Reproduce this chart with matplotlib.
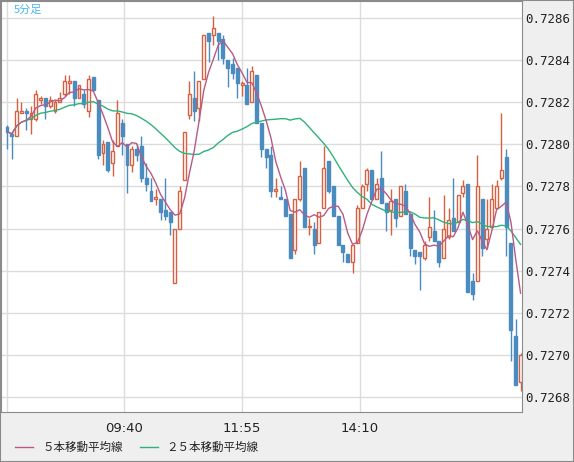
import matplotlib
matplotlib.use("Agg")
import matplotlib.pyplot as plt
import numpy as np
import pandas as pd

opens = [.72808,.72805,.72804,.72815,.72816,.72812,.72812,.72821,.72822,.72818,.72816,.72820,.72824,.72829,.72830,.72822,.72824,.72816,.72832,.72821,
         .72796,.72801,.72791,.72799,.72810,.72800,.72790,.72798,.72799,.72784,.72778,.72774,.72774,.72769,.72768,.72734,.72760,.72783,.72814,.72822,
         .72817,.72831,.72853,.72852,.72853,.72850,.72840,.72838,.72836,.72828,.72828,.72820,.72833,.72810,.72798,.72795,.72778,.72775,.72774,.72767,
         .72750,.72774,.72789,.72761,.72760,.72753,.72770,.72792,.72780,.72766,.72752,.72748,.72744,.72753,.72770,.72781,.72788,.72774,.72784,.72772,
         .72769,.72774,.72766,.72778,.72767,.72750,.72749,.72746,.72756,.72759,.72754,.72746,.72756,.72765,.72763,.72777,.72781,.72735,.72735,.72774,
         .72755,.72761,.72770,.72784,.72794,.72753,.72709,.72687]
highs = [.72809,.72806,.72822,.72820,.72817,.72818,.72826,.72823,.72822,.72823,.72821,.72825,.72833,.72833,.72830,.72828,.72826,.72833,.72832,.72821,
         .72802,.72801,.72802,.72821,.72812,.72800,.72799,.72800,.72804,.72791,.72784,.72779,.72774,.72784,.72768,.72760,.72780,.72806,.72830,.72835,
         .72830,.72852,.72853,.72861,.72853,.72852,.72840,.72841,.72836,.72830,.72836,.72837,.72833,.72810,.72798,.72799,.72784,.72780,.72774,.72767,
         .72774,.72792,.72789,.72765,.72763,.72768,.72799,.72792,.72780,.72766,.72752,.72748,.72752,.72771,.72781,.72789,.72788,.72784,.72797,.72772,
         .72779,.72774,.72780,.72781,.72767,.72750,.72749,.72754,.72775,.72769,.72754,.72776,.72770,.72784,.72776,.72783,.72781,.72739,.72795,.72774,
         .72774,.72781,.72783,.72815,.72798,.72753,.72717,.72701]
lows = [.72798,.72793,.72804,.72815,.72807,.72805,.72811,.72819,.72812,.72817,.72815,.72820,.72823,.72824,.72818,.72822,.72817,.72813,.72826,.72793,
        .72790,.72787,.72785,.72799,.72795,.72777,.72787,.72792,.72782,.72778,.72773,.72771,.72764,.72764,.72757,.72734,.72760,.72783,.72812,.72811,
        .72811,.72831,.72839,.72847,.72840,.72838,.72827,.72831,.72822,.72823,.72819,.72820,.72810,.72794,.72789,.72775,.72775,.72774,.72766,.72746,
        .72748,.72773,.72761,.72757,.72748,.72753,.72770,.72777,.72766,.72752,.72744,.72744,.72739,.72753,.72770,.72778,.72774,.72774,.72772,.72759,
        .72757,.72761,.72766,.72767,.72747,.72743,.72731,.72745,.72754,.72754,.72742,.72746,.72755,.72759,.72763,.72775,.72730,.72726,.72735,.72747,
        .72751,.72761,.72770,.72783,.72747,.72697,.72686,.72683]
closes = [.72806,.72804,.72816,.72816,.72815,.72815,.72824,.72822,.72818,.72821,.72820,.72822,.72830,.72830,.72822,.72828,.72819,.72831,.72826,.72795,
          .72800,.72788,.72797,.72815,.72804,.72790,.72798,.72795,.72784,.72781,.72773,.72775,.72768,.72766,.72763,.72760,.72778,.72806,.72824,.72816,
          .72830,.72852,.72849,.72855,.72849,.72841,.72836,.72834,.72829,.72829,.72819,.72835,.72810,.72798,.72794,.72778,.72779,.72774,.72766,.72746,
          .72774,.72785,.72761,.72761,.72752,.72768,.72789,.72778,.72766,.72752,.72749,.72744,.72752,.72770,.72780,.72788,.72774,.72781,.72772,.72768,
          .72773,.72765,.72780,.72767,.72751,.72747,.72747,.72752,.72761,.72754,.72744,.72760,.72764,.72759,.72776,.72780,.72730,.72729,.72780,.72751,
          .72760,.72774,.72780,.72788,.72761,.72712,.72686,.72700]

tick_pos = [0, 24.4, 49.0, 73.5]
tick_labels = ["", "09:40", "11:55", "14:10"]
y_ticks = [0.7268, 0.7270, 0.7272, 0.7274, 0.7276, 0.7278, 0.7280, 0.7282, 0.7284, 0.7286]

UP = "#d8603e"
DN = "#4a8bc0"
MA5C = "#b85a86"
MA25C = "#2fb27a"

o, h, l, c = map(np.array, (opens, highs, lows, closes))
x = np.arange(len(o))
ma5 = pd.Series(c).rolling(5, min_periods=1).mean()
ma25 = pd.Series(c).rolling(25, min_periods=1).mean()

W, H = 574, 462
fig = plt.figure(figsize=(W/100, H/100), dpi=100, facecolor="#efefef")
ax = fig.add_axes([1/W, 1 - 412/H, 521/W, 411/H])
ax.set_facecolor("white")

for yt in y_ticks:
    ax.axhline(yt, color="#dcdcdc", lw=1, zorder=0)
for xt in tick_pos:
    ax.axvline(xt, color="#dcdcdc", lw=1, zorder=0)

up = c >= o
bw = 0.62
for i in x:
    col = UP if up[i] else DN
    ax.vlines(i, l[i], h[i], color=col, lw=1, zorder=2)
    lo, hi = min(o[i], c[i]), max(o[i], c[i])
    hgt = max(hi - lo, 0.000003)
    if up[i]:
        ax.bar(i, hgt, bottom=lo, width=bw, facecolor="white", edgecolor=col, linewidth=1, zorder=3)
    else:
        ax.bar(i, hgt, bottom=lo, width=bw, facecolor=col, edgecolor=col, linewidth=1, zorder=3)

ax.plot(x, ma25, color=MA25C, lw=1, zorder=4)
ax.plot(x, ma5, color=MA5C, lw=1, zorder=4)

ax.set_xlim(-1.25, 107.3)
ax.set_ylim(0.72673, 0.72868)
ax.set_xticks(tick_pos)
ax.set_xticklabels(tick_labels, fontsize=9.5, color="#222")
ax.set_yticks(y_ticks)
ax.set_yticklabels([f"{v:.4f}" for v in y_ticks], fontsize=9, family="DejaVu Sans Mono", color="#222")
ax.yaxis.tick_right()
ax.tick_params(length=0, pad=2)
ax.tick_params(axis="x", pad=7)
for s in ax.spines.values():
    s.set_color("#8a8a8a")

fig.text(14/W, 1 - 10/H, "5分足", color="#4ab8e8", fontsize=8, va="center",
         family=["Noto Sans CJK JP", "DejaVu Sans"])

fig.lines.append(plt.Line2D([15/W, 33/W], [1 - 447/H]*2, color=MA5C, lw=1, transform=fig.transFigure))
fig.text(42/W, 1 - 447/H, "５本移動平均線", fontsize=8.3, va="center", color="#222",
         family=["Noto Sans CJK JP", "DejaVu Sans"])
fig.lines.append(plt.Line2D([140/W, 158/W], [1 - 447/H]*2, color=MA25C, lw=1, transform=fig.transFigure))
fig.text(166/W, 1 - 447/H, "２５本移動平均線", fontsize=8.3, va="center", color="#222",
         family=["Noto Sans CJK JP", "DejaVu Sans"])

fig.patches.append(plt.Rectangle((0, 0), 1, 1, transform=fig.transFigure, fill=False,
                                 edgecolor="#8a8a8a", lw=1.5))
fig.savefig("out.png", dpi=100, facecolor=fig.get_facecolor())
